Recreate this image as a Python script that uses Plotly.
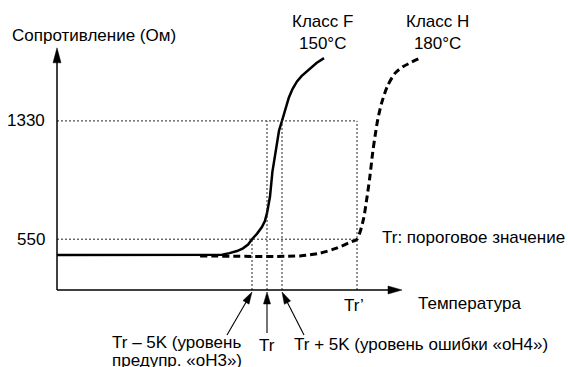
import math
import plotly.graph_objects as go

# Characteristic temperatures (°C)
T_ORIGIN = 70
TR = 140            # threshold temperature, class F sensor
TR_WARN = TR - 5    # warning level "oH3"
TR_ERR = TR + 5     # error level "oH4"
TR_H = 170          # threshold temperature, class H sensor
T_AXIS_END = 185

# Resistance levels (Ohm)
R_ORIGIN = 215
R_WARN = 550
R_TRIP = 1330
R_AXIS_END = 1812

# Class F sensor characteristic (150 °C)
class_f_temp = [70, 122, 125, 127.5, 130, 132, 133.7, 135, 136.7, 138.3, 139.3, 140,
                140.5, 141, 141.8, 142.5, 143.2, 144, 145, 146.3, 147.3, 148.5,
                150, 151.5, 154.5, 156.5, 159]
class_f_res = [445, 445, 448, 458, 472, 490, 515, 550, 587, 630, 670, 722,
               775, 831, 994, 1090, 1183, 1265, 1330, 1425, 1485, 1540,
               1590, 1625, 1678, 1712, 1744]

# Class H sensor characteristic (180 °C)
class_h_temp = [117.7, 151, 157.7, 163.2, 168.2, 170, 172.1, 173.2, 174.3,
                175.2, 176, 176.9, 178.2, 180.1, 182.7, 185.4, 191]
class_h_res = [440, 440, 458, 491, 534, 550, 678, 809, 963,
               1117, 1227, 1337, 1447, 1557, 1645, 1688, 1744]

W, H = 568, 367
PX_PER_K = 3.0
OHM_PER_PX = 6.594
ORIGIN_PX = (57, 290)

x_range = [T_ORIGIN - ORIGIN_PX[0] / PX_PER_K, T_ORIGIN + (W - ORIGIN_PX[0]) / PX_PER_K]
y_range = [R_ORIGIN - (H - ORIGIN_PX[1]) * OHM_PER_PX, R_ORIGIN + ORIGIN_PX[1] * OHM_PER_PX]


def px_x(px):
    return x_range[0] + px / PX_PER_K


def px_y(py):
    return y_range[1] - py * OHM_PER_PX


FONT = dict(family="Liberation Sans, Arial, sans-serif", size=17, color="black")

fig = go.Figure()

fig.add_trace(go.Scatter(x=class_h_temp, y=class_h_res, mode="lines",
                         line=dict(color="black", width=3, dash="7px,4px",
                                   shape="spline", smoothing=0.8),
                         hoverinfo="skip", showlegend=False))
fig.add_trace(go.Scatter(x=class_f_temp, y=class_f_res, mode="lines",
                         line=dict(color="black", width=2.5),
                         hoverinfo="skip", showlegend=False))

shapes = []
dot = dict(color="#222", width=1, dash="2px,2px")

# reference grid of thresholds
shapes.append(dict(type="line", x0=T_ORIGIN, x1=TR_H, y0=R_TRIP, y1=R_TRIP, line=dot))
shapes.append(dict(type="line", x0=T_ORIGIN, x1=TR_H, y0=R_WARN, y1=R_WARN, line=dot))
shapes.append(dict(type="line", x0=TR_H, x1=TR_H, y0=R_ORIGIN, y1=R_TRIP, line=dot))
shapes.append(dict(type="line", x0=TR, x1=TR, y0=R_ORIGIN, y1=R_TRIP, line=dot))
shapes.append(dict(type="line", x0=TR_ERR, x1=TR_ERR, y0=R_ORIGIN, y1=R_TRIP, line=dot))
shapes.append(dict(type="line", x0=TR_WARN, x1=TR_WARN, y0=R_ORIGIN, y1=R_WARN, line=dot))


def arrow(xa, ya, dx, dy, head_len, head_w, width, tip_dy=0):
    """Arrow whose tip sits at data point (xa, ya); the tail is offset by
    (dx, dy) screen pixels (dy positive downwards)."""
    length = math.hypot(dx, dy)
    ux, uy = dx / length, dy / length
    px_, py_ = -uy, ux
    bx, by = ux * head_len, uy * head_len
    common = dict(xsizemode="pixel", ysizemode="pixel", xanchor=xa, yanchor=ya,
                  xref="x", yref="y")
    t = tip_dy
    shapes.append(dict(type="line", x0=bx * 0.9, y0=-(by * 0.9 + t), x1=dx, y1=-(dy + t),
                       line=dict(color="black", width=width), **common))
    p1 = (bx + px_ * head_w / 2, -(by + py_ * head_w / 2 + t))
    p2 = (bx - px_ * head_w / 2, -(by - py_ * head_w / 2 + t))
    path = f"M0,{-t} L{p1[0]:.2f},{p1[1]:.2f} L{p2[0]:.2f},{p2[1]:.2f} Z"
    shapes.append(dict(type="path", path=path, fillcolor="black",
                       line=dict(color="black", width=0.5), **common))


# axes
x_len_px = (T_AXIS_END - T_ORIGIN) * PX_PER_K
y_len_px = (R_AXIS_END - R_ORIGIN) / OHM_PER_PX
arrow(T_AXIS_END, R_ORIGIN, -x_len_px, 0, 14, 8, 1.5)
arrow(T_ORIGIN, R_AXIS_END, 0, y_len_px, 15, 8, 1.5)

# pointer arrows below the temperature axis
arrow(TR_WARN, R_ORIGIN, -25, 43, 12, 7, 1.1, tip_dy=2)
arrow(TR, R_ORIGIN, 0, 41, 12, 7, 1.1, tip_dy=2)
arrow(TR_ERR, R_ORIGIN, 22, 43, 12, 7, 1.1, tip_dy=2)

annotations = []


def label(text, x, y, xanchor="center", yanchor="middle", align="center", size=17):
    annotations.append(dict(text=text, x=x, y=y, xref="x", yref="y",
                            xanchor=xanchor, yanchor=yanchor, align=align,
                            showarrow=False, font=dict(FONT, size=size)))


def big(s):
    return f"<span style='font-size:17px'>{s}</span>"


label("Сопротивление (Ом)", px_x(94), px_y(35))
label("Класс F<br>150°C", px_x(322), px_y(32))
label("Класс H<br>180°C", px_x(437), px_y(32))
label("1330", px_x(47), R_TRIP, xanchor="right")
label("550", px_x(47), R_WARN, xanchor="right")
label("Tr: пороговое значение", px_x(380), px_y(237.5), xanchor="left")
label("Tr’", TR_H - 1, px_y(305.5))
label("Температура", px_x(416), px_y(303), xanchor="left")
# two-line note with tight line spacing (line pitch follows the 14 px base size)
label(big("Tr – 5K (уровень") + "<br>" + big("предупр. «оН3»)"),
      px_x(110), px_y(330.5), xanchor="left", yanchor="top", align="left", size=14)
label("Tr", TR, px_y(345.5))
label("Tr + 5K (уровень ошибки «оН4»)", px_x(291.5), px_y(344), xanchor="left")

fig.update_layout(
    width=W, height=H,
    margin=dict(l=0, r=0, t=0, b=0),
    paper_bgcolor="white", plot_bgcolor="white",
    xaxis=dict(range=x_range, visible=False, fixedrange=True),
    yaxis=dict(range=y_range, visible=False, fixedrange=True),
    shapes=shapes, annotations=annotations,
    showlegend=False,
)

fig.write_html("out.html")
